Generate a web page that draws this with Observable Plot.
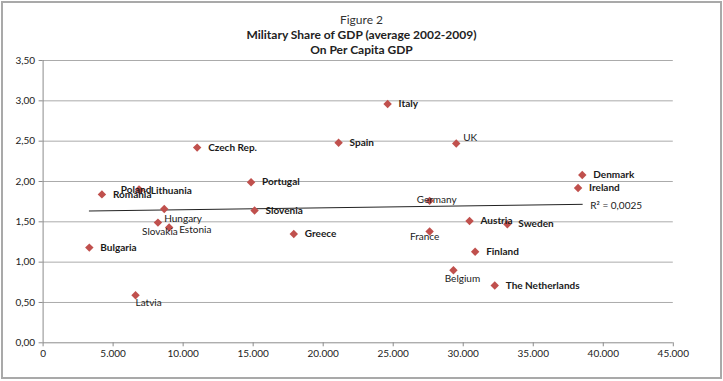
<!DOCTYPE html>
<html>
<head>
<meta charset="utf-8">
<script src="https://cdn.jsdelivr.net/npm/d3@7"></script>
<script src="https://cdn.jsdelivr.net/npm/@observablehq/plot@0.6"></script>
<style>
  html, body { margin: 0; padding: 0; background: #fff; }
  body { position: relative; width: 723px; height: 381px; overflow: hidden; font-family: Lato, "Open Sans", sans-serif; }
  #frame { position: absolute; left: 1px; top: 1px; width: 721px; height: 378px; box-sizing: border-box; border: 2px solid #a9a9a9; }
  #chart { position: absolute; left: 0; top: 0; }
  .t { position: absolute; left: 0; width: 723px; text-align: center; color: #222; font-size: 12px; line-height: 15px; }
  #t1 { top: 12px; font-weight: normal; color: #333; }
  #t2 { top: 27px; font-weight: bold; }
  #t3 { top: 42px; font-weight: bold; }
</style>
</head>
<body>
<div id="chart"></div>
<div id="frame"></div>
<div class="t" id="t1"></div>
<div class="t" id="t2"></div>
<div class="t" id="t3"></div>
<script>
// ---- data ----
const titleLines = ["Figure 2", "Military Share of GDP (average 2002-2009)", "On Per Capita GDP"];
const countries = ["Bulgaria", "Romania", "Poland", "Lithuania", "Latvia", "Hungary", "Slovakia", "Estonia",
  "Czech Rep.", "Portugal", "Slovenia", "Greece", "Spain", "Italy", "UK", "Germany", "France",
  "Austria", "Sweden", "Finland", "Belgium", "The Netherlands", "Ireland", "Denmark"];
const gdpPerCapita = [3300, 4200, 6850, 6900, 6600, 8650, 8200, 9000,
  11000, 14850, 15100, 17900, 21100, 24600, 29500, 27600, 27600,
  30450, 33150, 30850, 29300, 32250, 38200, 38500];
const militaryShare = [1.18, 1.84, 1.90, 1.89, 0.59, 1.66, 1.49, 1.43,
  2.42, 1.99, 1.64, 1.35, 2.48, 2.96, 2.47, 1.76, 1.38,
  1.51, 1.47, 1.13, 0.90, 0.71, 1.92, 2.08];
const xTicks = [0, 5000, 10000, 15000, 20000, 25000, 30000, 35000, 40000, 45000];
const yTicks = [0, 0.5, 1, 1.5, 2, 2.5, 3, 3.5];
const r2Label = "R² = 0,0025";

// ---- render ----
document.getElementById("t1").textContent = titleLines[0];
document.getElementById("t2").textContent = titleLines[1];
document.getElementById("t3").textContent = titleLines[2];

const data = countries.map((c, i) => ({country: c, x: gdpPerCapita[i], y: militaryShare[i]}));

const locale = d3.formatLocale({decimal: ",", thousands: ".", grouping: [3], currency: ["", "€"]});
const fx = locale.format(",d");
const fy = locale.format(".2f");

// label placement: [textAnchor, dx, dy, weight]
const place = {
  "Poland": ["middle", -3, 0, "bold"],
  "Germany": ["middle", 7, -1, "normal"],
  "Hungary": ["start", 0, 10, "normal"],
  "Slovakia": ["middle", 2, 9, "normal"],
  "Estonia": ["start", 10, 2, "normal"],
  "France": ["middle", -5, 5, "normal"],
  "Belgium": ["middle", 9, 9, "normal"],
  "Latvia": ["start", 0, 8, "normal"],
  "UK": ["start", 7, -6, "normal"]
};
const def = ["start", 11, 0, "bold"];

// regression endpoint for R² label
const n = data.length;
const mx = d3.mean(data, d => d.x), my = d3.mean(data, d => d.y);
const slope = d3.sum(data, d => (d.x - mx) * (d.y - my)) / d3.sum(data, d => (d.x - mx) ** 2);
const xmax = d3.max(data, d => d.x);
const r2Point = [{x: xmax, y: my + slope * (xmax - mx), label: r2Label}];

const font = "Lato, 'Open Sans', sans-serif";

const labelMarks = data.map(d => {
  const [anchor, dx, dy, w] = place[d.country] || def;
  return Plot.text([d], {x: "x", y: "y", text: "country", textAnchor: anchor, dx, dy,
    fontSize: 10, fontWeight: w, fill: "#1a1a1a", fontFamily: font});
});

const chart = Plot.plot({
  width: 723,
  height: 381,
  marginLeft: 42.6,
  marginRight: 50.2,
  marginTop: 60,
  marginBottom: 38.7,
  style: {fontFamily: font, fontSize: "10px", color: "#222", background: "transparent"},
  x: {domain: [0, 45000], ticks: xTicks, tickFormat: fx, tickSize: 4, tickPadding: 3, label: null},
  y: {domain: [0, 3.5], ticks: yTicks, tickFormat: fy, tickSize: 4, tickPadding: 5, label: null},
  marks: [
    Plot.gridY(yTicks.filter(t => t > 0), {stroke: "#ababab", strokeOpacity: 1, strokeWidth: 1}),
    Plot.axisX(xTicks, {tickFormat: fx, tickSize: 4, tickPadding: 3, stroke: "#8c8c8c", fill: "#222", fontSize: 10, label: null}),
    Plot.axisY(yTicks, {tickFormat: fy, tickSize: 4, tickPadding: 4, stroke: "#8c8c8c", fill: "#222", fontSize: 10, label: null}),
    Plot.ruleY([0], {stroke: "#8c8c8c"}),
    Plot.ruleX([0], {stroke: "#8c8c8c"}),
    Plot.linearRegressionY(data, {x: "x", y: "y", ci: 0, stroke: "#222", strokeWidth: 1}),
    Plot.dot(data, {x: "x", y: "y", symbol: "diamond2", r: 3.8, fill: "#c0504d", stroke: "none"}),
    ...labelMarks,
    Plot.text(r2Point, {x: "x", y: "y", text: "label", textAnchor: "start", dx: 8, dy: 1,
      fontSize: 10, fill: "#1a1a1a", fontFamily: font})
  ]
});
document.getElementById("chart").appendChild(chart);
</script>
</body>
</html>
